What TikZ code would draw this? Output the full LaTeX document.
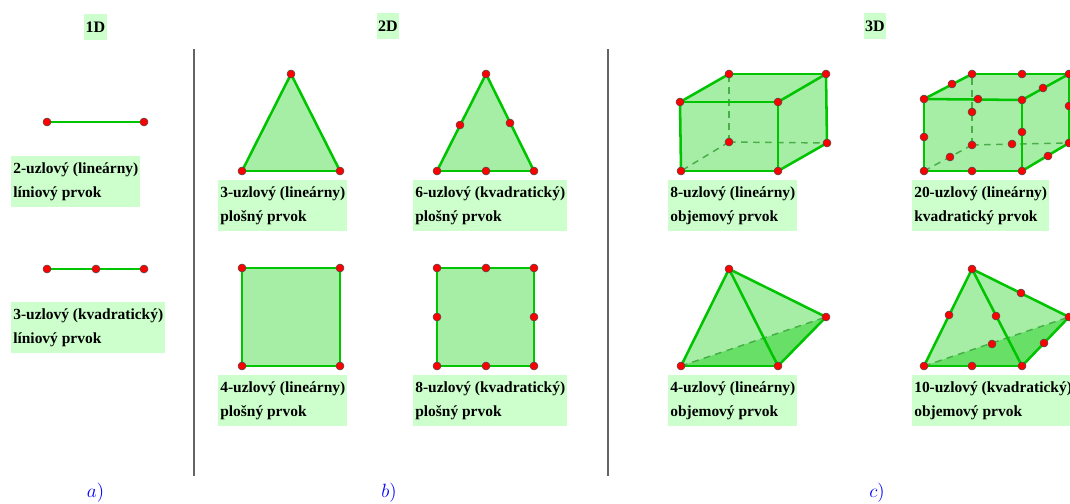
\documentclass[tikz,border=0pt]{standalone}
\usepackage{fontspec}
\setmainfont{Liberation Serif}
\usepackage{xcolor}
\usetikzlibrary{backgrounds,positioning}
\definecolor{edgec}{RGB}{0,196,0}
\definecolor{dashc}{RGB}{70,175,70}
\definecolor{facec}{RGB}{166,238,166}
\definecolor{darkc}{RGB}{104,224,104}
\definecolor{labc}{RGB}{204,255,204}
\definecolor{sepc}{RGB}{100,100,100}

\begin{document}
\begin{tikzpicture}[x=0.75pt,y=-0.75pt,
  dot/.style={circle,draw=black!70,fill=red,line width=0.4pt,minimum size=6pt,inner sep=0pt},
  edge/.style={edgec,line width=1.9pt},
  hidden/.style={dashc,line width=1.1pt,dash pattern=on 5pt off 4pt},
  face/.style={fill=facec},
  dark/.style={fill=darkc},
  lab/.style={fill=labc,anchor=north west,align=left,inner xsep=1.5pt,inner ysep=4.7pt,
    font=\fontsize{11.6}{18}\selectfont\bfseries},
  head/.style={fill=labc,minimum width=17pt,minimum height=19.5pt,inner sep=0pt,
    font=\fontsize{12}{13}\selectfont\bfseries},
  part/.style={text=blue,font=\fontsize{14}{16}\selectfont},
  sep/.style={sepc,line width=1.5pt}]
\useasboundingbox (0,0) rectangle (1070,503);
% ---- headers and column separators ----
\node[head] (h1) at (95.5,27) {1D};
\node[head] (h2) at (388,26) {2D};
\node[head] (h3) at (875,26) {3D};
\coordinate (s1t) at (193.5,49);
\coordinate (s1b) at (193.5,476);
\coordinate (s2t) at (607.5,49);
\coordinate (s2b) at (607.5,476);
\draw[sep] (s1t) -- (s1b);
\draw[sep] (s2t) -- (s2b);
\node[part] (pa) at (95.5,493) {$a)$};
\node[part] (pb) at (389,493) {$b)$};
\node[part] (pc) at (877,493) {$c)$};
% ---- 1D ----
\foreach \n/\x/\y in {la/47/122,lb/144/122,qa/47/269,qm/96/269,qb/144/269}
  \node[dot] (\n) at (\x,\y) {};
\node[lab] (l1) at (11,156) {2-uzlový (lineárny)\\líniový prvok};
\node[lab] (l2) at (11,302) {3-uzlový (kvadratický)\\líniový prvok};
% ---- 2D ----
\foreach \n/\x/\y in {ta/291/74,tb/242/171,tc/340/171,
  ua/486/74,ub/437/171,uc/534/171,ud/460/125,ue/510/123,uf/486/171,
  sa/242/268,sb/340/268,sc/340/366,sd/242/366,
  ra/437/268,rb/486/268,rc/534/268,rd/534/317,re/534/366,rf/486/366,rg/437/366,rh/437/317}
  \node[dot] (\n) at (\x,\y) {};
\node[lab] (l3) at (218,180) {3-uzlový (lineárny)\\plošný prvok};
\node[lab] (l4) at (413,180) {6-uzlový (kvadratický)\\plošný prvok};
\node[lab] (l5) at (218,375) {4-uzlový (lineárny)\\plošný prvok};
\node[lab] (l6) at (413,375) {8-uzlový (kvadratický)\\plošný prvok};
% ---- 3D: hexahedra ----
\foreach \n/\x/\y in {ha/680/102,hb/778/102,hc/778/171,hd/681/171,he/729/74,hf/826/74,hg/827/143,hh/729/142,
  ka/924/99,kb/1022/100,kc/1022/171,kd/924/171,ke/972/74,kf/1069/74,kg/1069/143,kh/972/145,
  kab/978/99,kae/952/84,kef/1022/74,kbf/1043/88,kad/924/137,kbc/1022/132,kfg/1069/106,keh/972/112,
  kdh/950/157,kdc/972/171,kcg/1048/156,khg/1012/144}
  \node[dot] (\n) at (\x,\y) {};
\node[lab] (l7) at (668,180) {8-uzlový (lineárny)\\objemový prvok};
\node[lab] (l8) at (912,180) {20-uzlový (lineárny)\\kvadratický prvok};
% ---- 3D: tetrahedra ----
\foreach \n/\x/\y in {pt/729/269,pl/681/366,pf/778/366,pk/826/317,
  wt/972/269,wl/924/366,wf/1022/366,wk/1069/317,wtl/949/315,wtf/996/316,wtk/1021/293,wlk/992/344,wlf/972/366,wfk/1044/343}
  \node[dot] (\n) at (\x,\y) {};
\node[lab] (l9) at (668,375) {4-uzlový (lineárny)\\objemový prvok};
\node[lab] (l10) at (912,375) {10-uzlový (kvadratický)\\objemový prvok};
% ---- faces and edges go under the nodes ----
\begin{scope}[on background layer]
\fill[face] (ta.center) -- (tb.center) -- (tc.center) -- cycle;
\fill[face] (ua.center) -- (ub.center) -- (uc.center) -- cycle;
\fill[face] (sa.center) -- (sb.center) -- (sc.center) -- (sd.center) -- cycle;
\fill[face] (ra.center) -- (rc.center) -- (re.center) -- (rg.center) -- cycle;
\fill[face] (ha.center) -- (he.center) -- (hf.center) -- (hg.center) -- (hc.center) -- (hd.center) -- cycle;
\fill[face] (ka.center) -- (ke.center) -- (kf.center) -- (kg.center) -- (kc.center) -- (kd.center) -- cycle;
\fill[face] (pt.center) -- (pk.center) -- (pf.center) -- (pl.center) -- cycle;
\fill[dark] (pl.center) -- (pf.center) -- (pk.center) -- cycle;
\fill[face] (wt.center) -- (wk.center) -- (wf.center) -- (wl.center) -- cycle;
\fill[dark] (wl.center) -- (wf.center) -- (wk.center) -- cycle;
\foreach \a/\b in {hh/hd,hh/he,hh/hg,kh/kd,kh/ke,kh/kg,pl/pk,wl/wk}
  \draw[hidden] (\a.center) -- (\b.center);
\foreach \a/\b in {la/lb,qa/qb,ta/tb,tb/tc,tc/ta,ua/ub,ub/uc,uc/ua,
  sa/sb,sb/sc,sc/sd,sd/sa,ra/rc,rc/re,re/rg,rg/ra,
  ha/hb,hb/hc,hc/hd,hd/ha,ha/he,he/hf,hf/hb,hf/hg,hg/hc,
  ka/kb,kb/kc,kc/kd,kd/ka,ka/ke,ke/kf,kf/kb,kf/kg,kg/kc,
  pt/pl,pt/pf,pt/pk,pl/pf,pf/pk,wt/wl,wt/wf,wt/wk,wl/wf,wf/wk}
  \draw[edge] (\a.center) -- (\b.center);
\end{scope}
\end{tikzpicture}
\end{document}
